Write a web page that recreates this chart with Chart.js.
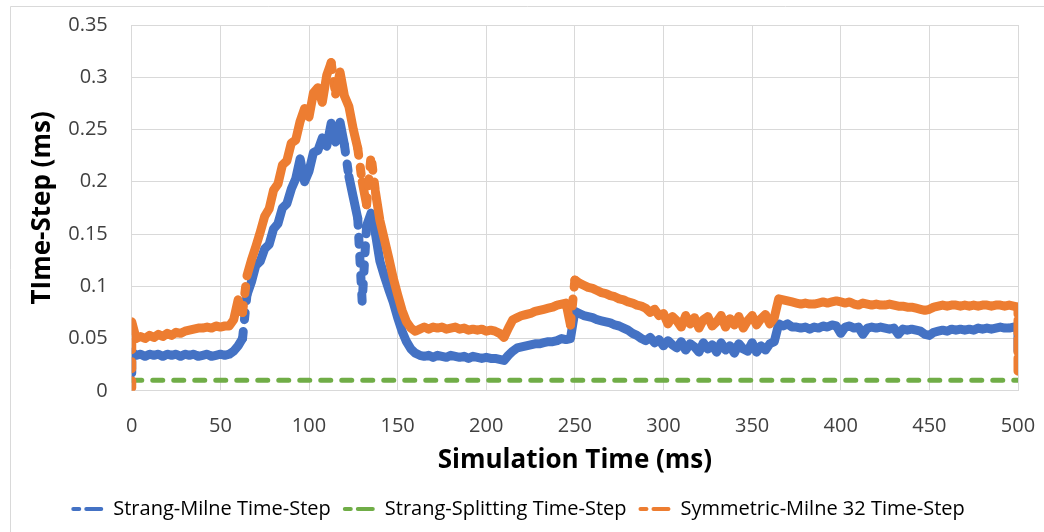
<!DOCTYPE html>
<html>
<head>
<meta charset="utf-8">
<script src="https://cdn.jsdelivr.net/npm/chart.js@4"></script>
<style>
  html, body { margin: 0; padding: 0; background: #fff; }
  #wrap { width: 1044px; height: 532px; }
</style>
</head>
<body>
<div id="wrap"><canvas id="stepChart"></canvas></div>
<script>
// simulation time (ms), 0 and 500 appear twice for the vertical end drops
const timeMs = [0,
  0,2.5,5,7.5,10,12.5,15,17.5,20,22.5,
  25,27.5,30,32.5,35,37.5,40,42.5,45,47.5,
  50,52.5,55,57.5,60,62.5,65,67.5,70,72.5,
  75,77.5,80,82.5,85,87.5,90,92.5,95,97.5,
  100,102.5,105,107.5,110,112.5,115,117.5,120,122.5,
  125,127.5,130,132.5,135,137.5,140,142.5,145,147.5,
  150,152.5,155,157.5,160,162.5,165,167.5,170,172.5,
  175,177.5,180,182.5,185,187.5,190,192.5,195,197.5,
  200,202.5,205,207.5,210,212.5,215,217.5,220,222.5,
  225,227.5,230,232.5,235,237.5,240,242.5,245,247.5,
  250,252.5,255,257.5,260,262.5,265,267.5,270,272.5,
  275,277.5,280,282.5,285,287.5,290,292.5,295,297.5,
  300,302.5,305,307.5,310,312.5,315,317.5,320,322.5,
  325,327.5,330,332.5,335,337.5,340,342.5,345,347.5,
  350,352.5,355,357.5,360,362.5,365,367.5,370,372.5,
  375,377.5,380,382.5,385,387.5,390,392.5,395,397.5,
  400,402.5,405,407.5,410,412.5,415,417.5,420,422.5,
  425,427.5,430,432.5,435,437.5,440,442.5,445,447.5,
  450,452.5,455,457.5,460,462.5,465,467.5,470,472.5,
  475,477.5,480,482.5,485,487.5,490,492.5,495,497.5,
  500, 500];

const strangMilne = [0.017,
  0.037,0.034,0.035,0.033,0.035,0.034,0.035,0.033,0.035,0.034,
  0.035,0.033,0.035,0.034,0.035,0.033,0.034,0.035,0.033,0.034,
  0.035,0.034,0.035,0.038,0.043,0.05,0.092,0.104,0.12,0.124,
  0.136,0.14,0.155,0.16,0.175,0.179,0.193,0.203,0.222,0.2,
  0.21,0.228,0.23,0.242,0.234,0.256,0.238,0.257,0.235,0.205,
  0.185,0.165,0.085,0.158,0.17,0.15,0.124,0.11,0.097,0.085,
  0.07,0.057,0.047,0.04,0.036,0.034,0.033,0.034,0.032,0.034,
  0.033,0.032,0.034,0.033,0.032,0.033,0.031,0.033,0.032,0.031,
  0.032,0.031,0.031,0.03,0.029,0.034,0.038,0.041,0.042,0.043,
  0.044,0.045,0.045,0.046,0.047,0.047,0.048,0.05,0.049,0.05,
  0.076,0.074,0.072,0.071,0.07,0.068,0.067,0.066,0.065,0.063,
  0.062,0.06,0.058,0.055,0.053,0.05,0.048,0.051,0.046,0.049,
  0.043,0.048,0.044,0.041,0.047,0.039,0.045,0.042,0.037,0.046,
  0.04,0.044,0.037,0.046,0.039,0.043,0.036,0.045,0.04,0.038,
  0.046,0.037,0.043,0.039,0.045,0.047,0.064,0.062,0.064,0.061,
  0.061,0.06,0.061,0.059,0.061,0.06,0.062,0.061,0.063,0.062,
  0.055,0.061,0.062,0.06,0.061,0.054,0.06,0.061,0.06,0.061,
  0.06,0.059,0.06,0.054,0.059,0.058,0.059,0.058,0.057,0.054,
  0.053,0.056,0.057,0.058,0.057,0.059,0.058,0.059,0.058,0.059,
  0.058,0.06,0.059,0.06,0.059,0.06,0.061,0.06,0.06,0.061,
  0.06, 0.038];

const symMilne32 = [0.003,
  0.066,0.05,0.052,0.05,0.053,0.051,0.054,0.052,0.055,0.053,
  0.056,0.055,0.057,0.058,0.059,0.06,0.06,0.061,0.06,0.062,
  0.061,0.062,0.062,0.068,0.087,0.075,0.11,0.125,0.138,0.152,
  0.167,0.174,0.192,0.198,0.216,0.22,0.237,0.24,0.258,0.27,
  0.262,0.285,0.29,0.276,0.302,0.314,0.284,0.305,0.282,0.272,
  0.25,0.232,0.2,0.178,0.225,0.19,0.163,0.145,0.127,0.108,
  0.092,0.077,0.066,0.06,0.057,0.059,0.061,0.059,0.061,0.06,
  0.061,0.059,0.06,0.061,0.059,0.06,0.058,0.059,0.058,0.059,
  0.057,0.058,0.057,0.055,0.051,0.06,0.068,0.07,0.072,0.073,
  0.074,0.076,0.077,0.078,0.079,0.08,0.082,0.083,0.084,0.063,
  0.106,0.103,0.101,0.099,0.098,0.096,0.094,0.093,0.091,0.09,
  0.088,0.087,0.085,0.084,0.082,0.081,0.079,0.075,0.078,0.072,
  0.074,0.064,0.071,0.067,0.061,0.072,0.064,0.07,0.06,0.068,
  0.071,0.062,0.066,0.072,0.061,0.069,0.063,0.071,0.06,0.067,
  0.072,0.063,0.069,0.073,0.064,0.07,0.088,0.087,0.086,0.085,
  0.084,0.083,0.084,0.083,0.083,0.084,0.085,0.084,0.085,0.086,
  0.085,0.084,0.085,0.083,0.082,0.084,0.083,0.082,0.083,0.082,
  0.082,0.083,0.082,0.081,0.081,0.08,0.08,0.079,0.078,0.077,
  0.078,0.08,0.081,0.082,0.081,0.082,0.082,0.081,0.082,0.081,
  0.082,0.081,0.082,0.082,0.081,0.082,0.082,0.081,0.082,0.081,
  0.08, 0.016];

// constant splitting step
const splitTimeMs = [0, 500];
const strangSplitting = [0.01, 0.01];

const xTicks = [0, 50, 100, 150, 200, 250, 300, 350, 400, 450, 500];
const yTicks = [0, 0.05, 0.1, 0.15, 0.2, 0.25, 0.3, 0.35];

const seriesNames = ['Strang-Milne Time-Step', 'Strang-Splitting Time-Step', 'Symmetric-Milne 32 Time-Step'];
const seriesColors = ['#4472C4', '#70AD47', '#ED7D31'];

function toPoints(xs, ys) {
  return xs.map((x, i) => ({ x: x, y: ys[i] }));
}

// steep jumps show the dash pattern, the noisy bands look solid
const steepDash = ctx => Math.abs(ctx.p1.parsed.y - ctx.p0.parsed.y) > 0.028 ? [7, 12] : undefined;

// light frame around the chart
const frame = {
  id: 'frame',
  beforeDraw(chart) {
    const c = chart.ctx;
    c.save();
    c.strokeStyle = '#d9d9d9';
    c.lineWidth = 1;
    c.beginPath();
    c.moveTo(10.5, chart.height);
    c.lineTo(10.5, 6.5);
    c.lineTo(chart.width, 6.5);
    c.stroke();
    c.restore();
  }
};

Chart.defaults.font.family = "'Open Sans', sans-serif";
Chart.defaults.color = '#404040';

const ctx = document.getElementById('stepChart');
new Chart(ctx, {
  type: 'line',
  data: {
    datasets: [
      {
        label: seriesNames[0],
        data: toPoints(timeMs, strangMilne),
        borderColor: seriesColors[0],
        backgroundColor: seriesColors[0],
        borderWidth: 9,
        borderCapStyle: 'round',
        borderJoinStyle: 'round',
        pointRadius: 0,
        tension: 0,
        order: 1,
        segment: { borderDash: steepDash }
      },
      {
        label: seriesNames[1],
        data: toPoints(splitTimeMs, strangSplitting),
        borderColor: seriesColors[1],
        backgroundColor: seriesColors[1],
        borderWidth: 5,
        borderDash: [10, 11],
        borderCapStyle: 'round',
        pointRadius: 0,
        order: 2
      },
      {
        label: seriesNames[2],
        data: toPoints(timeMs, symMilne32),
        borderColor: seriesColors[2],
        backgroundColor: seriesColors[2],
        borderWidth: 9,
        borderCapStyle: 'round',
        borderJoinStyle: 'round',
        pointRadius: 0,
        tension: 0,
        order: 0,
        segment: { borderDash: steepDash }
      }
    ]
  },
  options: {
    responsive: true,
    maintainAspectRatio: false,
    animation: false,
    layout: { padding: { left: 20, right: 26, top: 25, bottom: 3 } },
    plugins: {
      tooltip: { enabled: false },
      legend: {
        position: 'bottom',
        labels: {
          usePointStyle: true,
          pointStyleWidth: 30,
          padding: 14,
          color: '#1a1a1a',
          font: { size: 20 },
          generateLabels: chart => chart.data.datasets.map((ds, i) => ({
            text: ds.label,
            fillStyle: ds.borderColor,
            strokeStyle: ds.borderColor,
            lineWidth: 4,
            lineDash: [6, 7, 15, 10],
            lineCap: 'round',
            pointStyle: 'line',
            hidden: false,
            datasetIndex: i
          }))
        }
      }
    },
    scales: {
      x: {
        type: 'linear',
        min: 0,
        max: 500,
        afterBuildTicks: axis => { axis.ticks = xTicks.map(v => ({ value: v })); },
        grid: { color: '#d9d9d9', tickColor: 'transparent', tickLength: 19 },
        border: { color: '#d9d9d9' },
        ticks: { padding: 4, font: { size: 20 }, color: '#404040' },
        title: {
          display: true,
          text: 'Simulation Time (ms)',
          color: '#000',
          font: { size: 26, weight: 'bold' },
          padding: { top: 3, bottom: 9 }
        }
      },
      y: {
        min: 0,
        max: 0.35,
        afterBuildTicks: axis => { axis.ticks = yTicks.map(v => ({ value: v })); },
        grid: { color: '#d9d9d9', tickColor: 'transparent', tickLength: 20 },
        border: { display: false },
        ticks: {
          padding: 4,
          font: { size: 20 },
          color: '#404040',
          callback: v => String(+v.toFixed(2))
        },
        title: {
          display: true,
          text: 'TIme-Step (ms)',
          color: '#000',
          font: { size: 26, weight: 'bold' },
          padding: { top: 7, bottom: 6 }
        }
      }
    }
  },
  plugins: [frame]
});
</script>
</body>
</html>
